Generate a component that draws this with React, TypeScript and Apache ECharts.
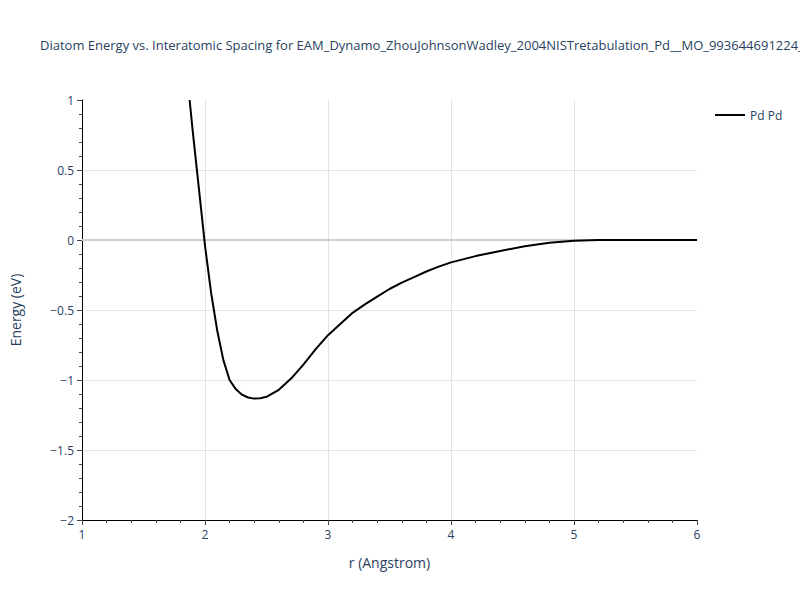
import React, { useEffect, useRef } from "react";
import * as echarts from "echarts";

const TITLE =
  "Diatom Energy vs. Interatomic Spacing for EAM_Dynamo_ZhouJohnsonWadley_2004NISTretabulation_Pd__MO_993644691224_005";
const SERIES_NAME = "Pd Pd";
const X_NAME = "r (Angstrom)";
const Y_NAME = "Energy (eV)";

const rValues = [
  1.875, 1.9, 1.95, 2.0, 2.05, 2.1, 2.15, 2.2, 2.25, 2.3, 2.35, 2.4, 2.45, 2.5,
  2.6, 2.7, 2.8, 2.9, 3.0, 3.1, 3.2, 3.3, 3.4, 3.5, 3.6, 3.7, 3.8, 3.9, 4.0,
  4.2, 4.4, 4.6, 4.8, 5.0, 5.2, 5.5, 6.0,
];
const energyValues = [
  1.0, 0.78, 0.37, -0.04, -0.38, -0.65, -0.86, -1.0, -1.065, -1.105, -1.125,
  -1.133, -1.13, -1.12, -1.07, -0.99, -0.89, -0.78, -0.68, -0.6, -0.52, -0.46,
  -0.405, -0.35, -0.305, -0.265, -0.225, -0.19, -0.16, -0.115, -0.078, -0.045,
  -0.02, -0.005, 0, 0, 0,
];

const TEXT = "#2a3f5f";
const FONT = "'Open Sans', verdana, arial, sans-serif";

const fmt = (v: number) => String(v).replace("-", "\u2212");

export default function App() {
  const ref = useRef<HTMLDivElement>(null);
  useEffect(() => {
    if (!ref.current) return;
    const chart = echarts.init(ref.current, undefined, { renderer: "svg" });
    const data = rValues.map((r, i) => [r, energyValues[i]]);
    chart.setOption({
      animation: false,
      backgroundColor: "#fff",
      textStyle: { fontFamily: FONT },
      title: {
        text: TITLE,
        left: 35,
        top: 33,
        textStyle: { fontSize: 13, fontWeight: "normal", color: TEXT, fontFamily: FONT },
      },
      legend: {
        left: 710,
        top: 104,
        itemWidth: 30,
        itemHeight: 2,
        itemGap: 5,
        icon: "rect",
        textStyle: { fontSize: 12, color: TEXT, fontFamily: FONT },
        data: [{ name: SERIES_NAME, icon: "rect" }],
      },
      grid: { left: 80, right: 103, top: 100, bottom: 80, containLabel: false },
      xAxis: {
        type: "value",
        min: 1,
        max: 6,
        interval: 1,
        name: X_NAME,
        nameLocation: "middle",
        nameGap: 35,
        nameTextStyle: { fontSize: 14, color: TEXT, fontFamily: FONT },
        axisLine: { show: true, onZero: false, lineStyle: { color: "#000", width: 1 } },
        axisTick: { show: true, inside: false, length: 5, lineStyle: { color: "#444" } },
        minorTick: { show: true, splitNumber: 5, length: 3, lineStyle: { color: "#444" } },
        axisLabel: { fontSize: 12, color: TEXT, margin: 8, formatter: fmt },
        splitLine: { show: true, showMinLine: false, showMaxLine: false, lineStyle: { color: "#e3e3e3", width: 1 } },
      },
      yAxis: {
        type: "value",
        min: -2,
        max: 1,
        interval: 0.5,
        name: Y_NAME,
        nameLocation: "middle",
        nameGap: 60,
        nameTextStyle: { fontSize: 14, color: TEXT, fontFamily: FONT },
        axisLine: { show: true, onZero: false, lineStyle: { color: "#000", width: 1 } },
        axisTick: { show: true, inside: false, length: 5, lineStyle: { color: "#444" } },
        minorTick: { show: true, splitNumber: 5, length: 3, lineStyle: { color: "#444" } },
        axisLabel: { fontSize: 12, color: TEXT, margin: 8, formatter: fmt },
        splitLine: { show: true, showMinLine: false, showMaxLine: false, lineStyle: { color: "#e3e3e3", width: 1 } },
      },
      series: [
        {
          name: SERIES_NAME,
          type: "line",
          data,
          showSymbol: false,
          symbol: "none",
          smooth: false,
          clip: true,
          lineStyle: { color: "#000", width: 2 },
          itemStyle: { color: "#000" },
          z: 3,
          markLine: {
            silent: true,
            symbol: "none",
            label: { show: false },
            lineStyle: { color: "#cfcfcf", width: 2, type: "solid" },
            data: [{ yAxis: 0 }],
            z: 1,
          },
        },
      ],
    });
    return () => chart.dispose();
  }, []);
  return (
    <div
      ref={ref}
      style={{ position: "absolute", left: 0, top: 0, width: 800, height: 600 }}
    />
  );
}
